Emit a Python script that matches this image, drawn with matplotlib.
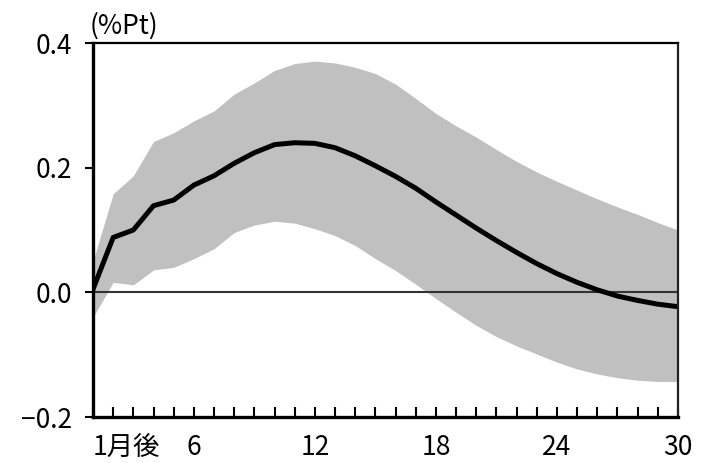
import numpy as np
import matplotlib
matplotlib.use('Agg')
import matplotlib.pyplot as plt
import matplotlib.transforms as mtransforms

plt.rcParams['font.family'] = ['Noto Sans CJK JP', 'DejaVu Sans']

# months after shock
months = np.arange(1, 31)

# impulse response (%Pt)
response = [0.005, 0.088, 0.100, 0.139, 0.148, 0.172, 0.187, 0.207, 0.224, 0.237,
            0.240, 0.239, 0.232, 0.219, 0.203, 0.186, 0.167, 0.145, 0.124, 0.103,
            0.083, 0.064, 0.046, 0.030, 0.016, 0.004, -0.006, -0.013, -0.019, -0.023]

# confidence band
upper = [0.050, 0.158, 0.187, 0.242, 0.256, 0.275, 0.291, 0.318, 0.336, 0.356,
         0.367, 0.371, 0.368, 0.361, 0.351, 0.334, 0.311, 0.287, 0.267, 0.249,
         0.229, 0.210, 0.193, 0.178, 0.164, 0.150, 0.137, 0.125, 0.112, 0.100]
lower = [-0.040, 0.016, 0.012, 0.036, 0.040, 0.054, 0.070, 0.096, 0.108, 0.114,
         0.111, 0.102, 0.091, 0.075, 0.054, 0.035, 0.013, -0.010, -0.032, -0.053,
         -0.071, -0.086, -0.099, -0.112, -0.123, -0.131, -0.137, -0.141, -0.143, -0.143]

xtick_pos = [1, 6, 12, 18, 24, 30]
xtick_labels = ['1月後', '6', '12', '18', '24', '30']
ytick_pos = [-0.2, 0.0, 0.2, 0.4]
ytick_labels = ['\u22120.2', '0.0', '0.2', '0.4']

fig = plt.figure(figsize=(7.09, 4.63), dpi=100)
ax = fig.add_axes([93/709, 1 - 417/463, (678 - 93)/709, (417 - 43)/463])

ax.fill_between(months, lower, upper, color='#c0c0c0', lw=0)
ax.axhline(0, color='#333333', lw=1.5)
ax.plot(months, response, color='black', lw=3.6, solid_joinstyle='round')

ax.set_xlim(1, 30)
ax.set_ylim(-0.2, 0.4)

ax.set_xticks(months, minor=True)
ax.set_xticks(xtick_pos)
ax.set_xticklabels(xtick_labels, fontsize=19)
first = ax.get_xticklabels()[0]
first.set_ha('left')
first.set_transform(first.get_transform() +
                    mtransforms.ScaledTranslation(-5/100, 0, fig.dpi_scale_trans))
ax.tick_params(axis='x', which='both', direction='in', length=7, width=1.5, pad=12)

ax.set_yticks(ytick_pos)
ax.set_yticklabels(ytick_labels, fontsize=19)
ax.tick_params(axis='y', direction='out', length=6, width=1.5, pad=9)

for side in ['left', 'bottom']:
    ax.spines[side].set_linewidth(2.4)
for side in ['top', 'right']:
    ax.spines[side].set_linewidth(1.6)
ax.spines['right'].set_color('#222222')

fig.text(90/709, 1 - 40/463, '(%Pt)', fontsize=19, ha='left', va='bottom')

fig.savefig('out.png', dpi=100)
